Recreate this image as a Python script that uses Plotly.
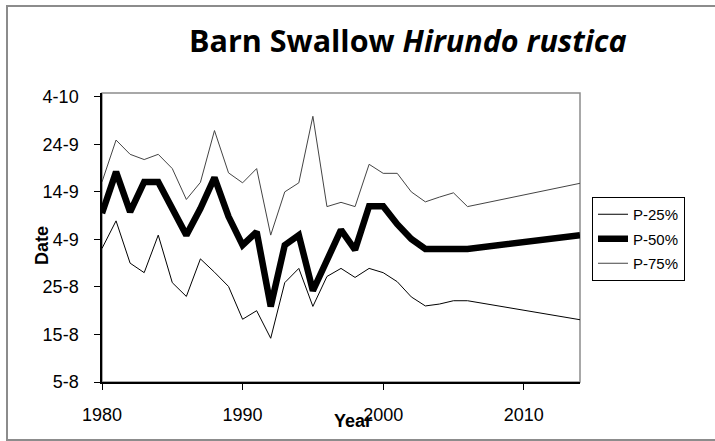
import plotly.graph_objects as go

# Passage dates as days after 5 August
years = [1980, 1981, 1982, 1983, 1984, 1985, 1986, 1987, 1988, 1989,
         1990, 1991, 1992, 1993, 1994, 1995, 1996, 1997, 1998, 1999,
         2000, 2001, 2002, 2003, 2004, 2005, 2006, 2014]
p25 = [28.1, 33.9, 25.0, 23.0, 30.9, 20.9, 18.0, 25.9, 23.1, 20.1,
       13.2, 15.0, 9.2, 20.9, 23.9, 15.9, 22.2, 23.9, 22.0, 23.9,
       23.0, 21.1, 17.9, 16.0, 16.4, 17.1, 17.1, 13.1]
p50 = [35.5, 44.2, 35.8, 42.1, 42.1, 36.5, 30.9, 36.5, 43.0, 34.8,
       28.8, 31.6, 15.9, 28.8, 30.9, 19.2, 25.5, 32.0, 27.8, 37.0,
       37.0, 33.2, 30.1, 28.0, 28.0, 28.0, 28.0, 30.9]
p75 = [42.1, 50.9, 47.9, 46.8, 47.9, 44.9, 38.4, 42.0, 52.9, 44.0,
       41.9, 44.9, 30.9, 40.0, 41.9, 55.9, 36.9, 37.8, 36.9, 45.8,
       43.9, 43.9, 40.0, 37.9, 38.9, 39.8, 36.9, 41.8]

y_tick_vals = [0, 10, 20, 30, 40, 50, 60]
y_tick_text = ["5-8", "15-8", "25-8", "4-9", "14-9", "24-9", "4-10"]
x_tick_vals = [1980, 1990, 2000, 2010]

FONT = "Liberation Sans, Arial, sans-serif"

fig = go.Figure()
fig.add_trace(go.Scatter(x=years, y=p25, mode="lines", name="P-25%",
                         line=dict(color="black", width=1), legendgroup="a"))
fig.add_trace(go.Scatter(x=years, y=p50, mode="lines", name="P-50%",
                         line=dict(color="black", width=6.5), legendgroup="b"))
fig.add_trace(go.Scatter(x=years, y=p75, mode="lines", name="P-75%",
                         line=dict(color="#444444", width=1), legendgroup="c"))

# plot area: x 102..580, y 93..382
W, H = 715, 441
L, R, T, B = 102, 135, 93, 59
pw, ph = W - L - R, H - T - B


def px(x):
    return (x - L) / pw


def py(y):
    return (H - B - y) / ph


fig.update_layout(
    width=W, height=H,
    margin=dict(l=L, r=R, t=T, b=B, pad=0),
    paper_bgcolor="white",
    plot_bgcolor="white",
    font=dict(family=FONT, size=16, color="black"),
    showlegend=True,
    legend=dict(
        x=px(592), y=py(197), xanchor="left", yanchor="top",
        bordercolor="black", borderwidth=1,
        font=dict(family=FONT, size=15, color="black"),
        tracegroupgap=2, traceorder="grouped",
    ),
    annotations=[
        dict(text="<b>Barn Swallow <i>Hirundo rustica</i></b>",
             x=px(408), y=py(40), xref="paper", yref="paper",
             xanchor="center", yanchor="middle", showarrow=False,
             font=dict(family="Open Sans, sans-serif", size=30.5, color="black")),
        dict(text="<b>Year</b>", x=px(353), y=py(421), xref="paper", yref="paper",
             xanchor="center", yanchor="middle", showarrow=False,
             font=dict(family=FONT, size=18, color="black")),
        dict(text="<b>Date</b>", x=px(42), y=py(246), xref="paper", yref="paper",
             xanchor="center", yanchor="middle", showarrow=False, textangle=-90,
             font=dict(family=FONT, size=18, color="black")),
    ],
    shapes=[
        # outer chart frame
        dict(type="rect", xref="paper", yref="paper",
             x0=px(7), x1=px(760), y0=py(440), y1=py(6),
             line=dict(color="#8c8c8c", width=2), layer="below"),
        # plot area frame
        dict(type="rect", xref="paper", yref="paper",
             x0=0, x1=1, y0=0, y1=1,
             line=dict(color="#8c8c8c", width=1.5), layer="below"),
    ],
)

fig.update_xaxes(
    range=[1980, 2014], tickvals=x_tick_vals,
    showgrid=False, zeroline=False,
    showline=True, linecolor="black", linewidth=1.5,
    ticks="outside", ticklen=6, tickcolor="black",
    ticklabelstandoff=10,
    tickfont=dict(family=FONT, size=18),
)
fig.update_yaxes(
    range=[0, 60.8], tickvals=y_tick_vals, ticktext=y_tick_text,
    showgrid=False, zeroline=False,
    showline=True, linecolor="black", linewidth=1.5,
    ticks="outside", ticklen=6, tickcolor="black",
    ticklabelstandoff=12,
    tickfont=dict(family=FONT, size=18),
)

# drop the browser's default body margin so the figure sits at the page corner
fig.write_html("out.html", config={"displayModeBar": False},
               post_script="document.body.style.margin='0';")
